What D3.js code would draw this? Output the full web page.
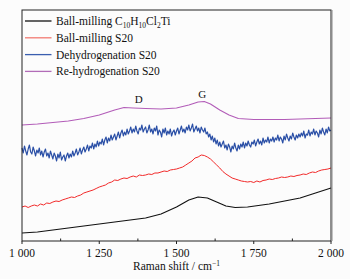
<!DOCTYPE html>
<html><head><meta charset="utf-8">
<script src="https://cdn.jsdelivr.net/npm/d3@7"></script>
<style>html,body{margin:0;padding:0;background:#fcfcfc;}svg{display:block;}</style>
</head><body>
<script>
// Re-hydrogenation S20
const purpleX = [1000,1050,1100,1150,1200,1250,1300,1330,1360,1400,1450,1500,1540,1570,1590,1610,1640,1670,1700,1750,1800,1850,1900,1950,2000];
const purpleY = [116,117,118.5,120,122.5,126,131,133.5,133,132.5,132,133,136,139,139.5,137,131,126,122.5,121.5,121.5,121.5,122,122.5,123];

// Ball-milling S20, read every 10 cm^-1
const redStart = 1000, redStep = 10;
const redY = [
34,35,33.5,35,36,35,37,36,38,37.5,
39,40,39.5,41,42,43,44,43.5,45,46,
48,49,50,51,52.5,54,55,56,58,59,
61,60.5,62,63,62.5,64,65,64,66,65.5,
66,67,66.5,68,68,69,70,69.5,71,71.5,
72,73,74,76,78,80,83,84,86,85.5,
84,82,79,76,73,69.5,67,65,63,62,
61,60,59.5,59,59.5,58.5,60,59,60.5,61,
62,61.5,62.5,63,64,63.5,64,65,64.5,65.5,
66,67,66.5,68,69,68.5,70,71,71.5,72,
73];

// Ball-milling C10H10Cl2Ti
const blackX = [1000,1050,1100,1150,1200,1250,1300,1350,1400,1450,1500,1540,1570,1600,1630,1660,1690,1730,1800,1850,1900,1950,2000];
const blackY = [8,9,11,13,15,17,19,21,23,27,34,41,44,43,39,35,33.5,34,37,40,43,48,53];

// Dehydrogenation S20: noisy trace, read every 4 cm^-1 from 1000 to 2000
const blueStart = 1000, blueStep = 4;
const blueY = [
93,88,95,90,86,92,96,89,87,94,90,85,91,88,93,86,90,84,89,92,85,88,83,90,86,
82,88,85,80,87,83,89,81,84,86,80,85,88,83,87,84,90,85,88,92,86,89,93,87,91,
94,89,92,96,90,95,93,98,92,97,94,100,95,99,97,102,96,101,104,98,103,100,106,101,104,
107,101,105,109,103,108,111,105,109,106,112,107,110,114,108,112,109,115,110,107,113,111,116,109,112,
114,108,111,116,109,112,107,113,110,115,106,111,109,104,112,108,113,106,110,107,112,105,109,111,106,
110,113,107,111,115,109,112,108,114,111,116,110,113,117,109,112,115,110,113,108,114,111,109,113,107,
109,104,107,101,105,99,103,97,101,95,99,94,97,100,93,96,91,97,94,89,95,92,98,93,90,
96,92,97,94,99,93,98,95,100,96,94,99,97,101,95,99,102,97,100,96,103,98,101,99,104,
98,102,100,104,99,103,101,106,100,104,102,98,105,101,107,103,100,105,102,108,104,101,106,103,107,
104,108,105,110,103,107,106,111,105,109,107,112,106,110,108,104,111,107,113,109,106,112,108,114,110,
111];

const xTicks = [1000,1250,1500,1750,2000];
const xMinorTicks = [1125,1375,1625,1875];
const xTickLabels = ["1 000","1 250","1 500","1 750","2 000"];
const peakLabels = [{t:"D", x:1378, y:138}, {t:"G", x:1583, y:143}];

const W = 350, H = 279;
const L = 22, R = 331, T = 10, B = 241;
const font = "'Liberation Serif','Times New Roman',Times,serif";

const svg = d3.select("body").append("svg").attr("width", W).attr("height", H);
svg.append("rect").attr("width", W).attr("height", H).attr("fill", "#fcfcfc");

const x = d3.scaleLinear().domain([1000, 2000]).range([L, R]);
const y = d3.scaleLinear().domain([0, 231]).range([B, T]);

const line = d3.line().x(d => x(d[0])).y(d => y(d[1]));

const series = [
  {data: blackX.map((v,i)=>[v, blackY[i]]), color: "#111111", w: 1.1},
  {data: redY.map((v,i)=>[redStart + i*redStep, v]), color: "#f22a2a", w: 1},
  {data: blueY.map((v,i)=>[blueStart + i*blueStep, v]), color: "#2a4fa6", w: 1.2},
  {data: purpleX.map((v,i)=>[v, purpleY[i]]), color: "#b25cb8", w: 1.1}
];

const g = svg.append("g");
series.forEach(s => {
  g.append("path").datum(s.data).attr("d", line)
    .attr("fill", "none").attr("stroke", s.color).attr("stroke-width", s.w)
    .attr("stroke-linejoin", "round");
});

// frame
svg.append("rect").attr("x", L).attr("y", T).attr("width", R - L).attr("height", B - T)
  .attr("fill", "none").attr("stroke", "#222").attr("stroke-width", 1);
svg.append("line").attr("x1", R + 1).attr("x2", R + 1).attr("y1", T).attr("y2", B)
  .attr("stroke", "#888").attr("stroke-width", 1);

// x axis: major ticks outward, minor inward
const xAxis = svg.append("g").attr("transform", `translate(0,${B})`);
xAxis.selectAll(".maj").data(xTicks).enter().append("line")
  .attr("x1", d => x(d)).attr("x2", d => x(d)).attr("y1", 0).attr("y2", 3)
  .attr("stroke", "#222");
xAxis.selectAll(".min").data(xMinorTicks).enter().append("line")
  .attr("x1", d => x(d)).attr("x2", d => x(d)).attr("y1", 0).attr("y2", -2.5)
  .attr("stroke", "#222");
xAxis.selectAll("text").data(xTicks).enter().append("text")
  .attr("x", d => x(d)).attr("y", 15.5).attr("text-anchor", "middle")
  .attr("font-family", font).attr("font-size", 11.5).attr("fill", "#111")
  .text((d, i) => xTickLabels[i]);

const title = svg.append("text").attr("x", (L + R) / 2).attr("y", 270).attr("text-anchor", "middle")
  .attr("font-family", font).attr("font-size", 11.5).attr("fill", "#111");
title.append("tspan").text("Raman shift / cm");
title.append("tspan").attr("dy", -4).attr("font-size", 7.5).text("\u22121");

// peak labels
svg.selectAll(".pk").data(peakLabels).enter().append("text")
  .attr("x", d => x(d.x)).attr("y", d => y(d.y)).attr("text-anchor", "middle")
  .attr("font-family", font).attr("font-size", 11).attr("fill", "#111").text(d => d.t);

// legend
const legendItems = [
  {color: "#111111", parts: [["Ball-milling C",0],["10",1],["H",0],["10",1],["Cl",0],["2",1],["Ti",0]]},
  {color: "#f27a72", parts: [["Ball-milling S20",0]]},
  {color: "#3a5fb0", parts: [["Dehydrogenation S20",0]]},
  {color: "#b26cb8", parts: [["Re-hydrogenation S20",0]]}
];
const lg = svg.append("g");
legendItems.forEach((it, i) => {
  const cy = 21 + i * 16.8;
  lg.append("line").attr("x1", 25).attr("x2", 51.5).attr("y1", cy).attr("y2", cy)
    .attr("stroke", it.color).attr("stroke-width", 1.3);
  const t = lg.append("text").attr("x", 56).attr("y", cy + 4)
    .attr("font-family", font).attr("font-size", 11.5).attr("fill", "#111");
  let prevSub = false;
  it.parts.forEach(p => {
    const ts = t.append("tspan").text(p[0]);
    if (p[1] && !prevSub) { ts.attr("dy", 2.5).attr("font-size", 7.5); prevSub = true; }
    else if (!p[1] && prevSub) { ts.attr("dy", -2.5); prevSub = false; }
  });
});
</script>
</body></html>
